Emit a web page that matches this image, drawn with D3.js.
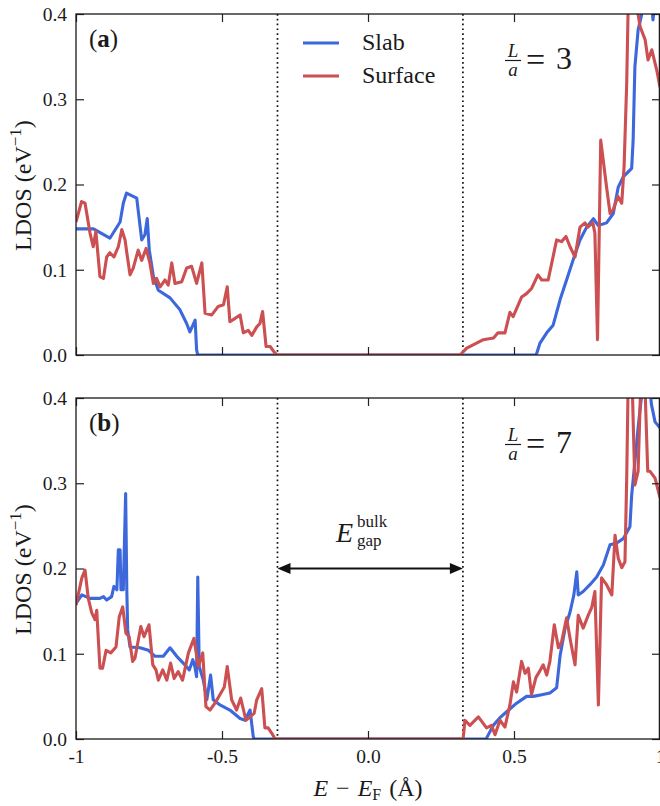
<!DOCTYPE html>
<html>
<head>
<meta charset="utf-8">
<script src="https://cdn.jsdelivr.net/npm/d3@7"></script>
<style>
  body { margin: 0; background: #fff; }
  svg text { font-family: "Liberation Serif", "Times New Roman", "Noto Serif", "DejaVu Serif", serif; fill: #1a1a1a; }
</style>
</head>
<body>
<script>
// ---------- data (E - E_F, LDOS) ----------
const xTicks = [-1, -0.5, 0, 0.5, 1];
const xTickLabels = ["-1", "-0.5", "0.0", "0.5", "1"];
const yTicks = [0, 0.1, 0.2, 0.3, 0.4];
const yTickLabels = ["0.0", "0.1", "0.2", "0.3", "0.4"];
const gapEdges = [-0.31, 0.325];
const seriesNames = ["Slab", "Surface"];
const panelLabels = ["a", "b"];
const ratioValues = ["3", "7"];

const slabA = [[-1.0,0.148],[-0.94,0.148],[-0.884,0.137],[-0.849,0.156],[-0.838,0.178],[-0.827,0.190],[-0.792,0.184],[-0.775,0.135],[-0.764,0.141],[-0.756,0.160],[-0.749,0.123],[-0.735,0.092],[-0.718,0.076],[-0.678,0.067],[-0.644,0.053],[-0.621,0.037],[-0.610,0.027],[-0.592,0.041],[-0.587,0.006],[-0.583,0],[0.575,0],[0.578,0.002],[0.589,0.014],[0.612,0.026],[0.634,0.035],[0.658,0.065],[0.680,0.088],[0.702,0.111],[0.726,0.135],[0.749,0.150],[0.772,0.160],[0.788,0.152],[0.817,0.155],[0.840,0.166],[0.857,0.197],[0.874,0.209],[0.903,0.219],[0.908,0.252],[0.914,0.338],[0.925,0.381],[0.937,0.399],[0.95,0.43],[0.965,0.44],[0.976,0.393],[0.985,0.43],[1.0,0.45]];

const surfA = [[-1.0,0.156],[-0.981,0.18],[-0.969,0.178],[-0.952,0.143],[-0.941,0.127],[-0.932,0.145],[-0.918,0.092],[-0.906,0.090],[-0.895,0.115],[-0.884,0.12],[-0.87,0.115],[-0.855,0.127],[-0.843,0.147],[-0.832,0.135],[-0.826,0.12],[-0.815,0.094],[-0.804,0.102],[-0.787,0.123],[-0.775,0.111],[-0.76,0.125],[-0.747,0.108],[-0.735,0.084],[-0.724,0.090],[-0.712,0.080],[-0.695,0.088],[-0.684,0.082],[-0.672,0.108],[-0.661,0.084],[-0.638,0.086],[-0.621,0.102],[-0.604,0.104],[-0.587,0.084],[-0.569,0.108],[-0.558,0.049],[-0.535,0.047],[-0.513,0.057],[-0.495,0.059],[-0.482,0.080],[-0.473,0.039],[-0.455,0.043],[-0.438,0.047],[-0.427,0.026],[-0.41,0.029],[-0.398,0.023],[-0.381,0.033],[-0.37,0.037],[-0.361,0.051],[-0.349,0.010],[-0.335,0.010],[-0.318,0.002],[-0.31,0],[0.315,0],[0.338,0.008],[0.36,0.012],[0.395,0.018],[0.43,0.02],[0.445,0.026],[0.469,0.026],[0.486,0.050],[0.497,0.045],[0.526,0.068],[0.543,0.072],[0.56,0.078],[0.582,0.094],[0.595,0.088],[0.617,0.088],[0.646,0.135],[0.663,0.133],[0.678,0.139],[0.692,0.127],[0.709,0.115],[0.726,0.150],[0.743,0.155],[0.753,0.150],[0.77,0.155],[0.777,0.143],[0.786,0.018],[0.797,0.252],[0.817,0.197],[0.829,0.166],[0.839,0.170],[0.856,0.186],[0.869,0.178],[0.877,0.221],[0.886,0.319],[0.891,0.41],[0.905,0.45],[0.92,0.41],[0.932,0.385],[0.949,0.37],[0.959,0.346],[0.972,0.358],[0.989,0.334],[1.0,0.314]];

const slabB = [[-1.0,0.159],[-0.98,0.169],[-0.952,0.165],[-0.918,0.165],[-0.906,0.167],[-0.895,0.163],[-0.878,0.167],[-0.87,0.179],[-0.86,0.175],[-0.855,0.222],[-0.849,0.222],[-0.846,0.175],[-0.838,0.175],[-0.830,0.288],[-0.826,0.175],[-0.823,0.128],[-0.815,0.108],[-0.781,0.107],[-0.752,0.104],[-0.729,0.097],[-0.701,0.097],[-0.678,0.107],[-0.655,0.097],[-0.627,0.087],[-0.612,0.081],[-0.600,0.093],[-0.593,0.085],[-0.587,0.073],[-0.583,0.190],[-0.578,0.085],[-0.564,0.069],[-0.552,0.046],[-0.539,0.075],[-0.530,0.046],[-0.507,0.040],[-0.473,0.034],[-0.438,0.024],[-0.421,0.022],[-0.404,0.034],[-0.393,0.003],[-0.39,0],[0.403,0],[0.406,0.001],[0.429,0.016],[0.452,0.025],[0.475,0.032],[0.509,0.042],[0.543,0.050],[0.566,0.050],[0.595,0.052],[0.623,0.054],[0.646,0.060],[0.658,0.098],[0.675,0.130],[0.692,0.149],[0.705,0.169],[0.715,0.196],[0.720,0.169],[0.737,0.173],[0.760,0.181],[0.783,0.190],[0.806,0.204],[0.829,0.228],[0.852,0.230],[0.874,0.235],[0.897,0.249],[0.903,0.286],[0.914,0.325],[0.925,0.365],[0.937,0.403],[0.95,0.43],[0.962,0.42],[0.971,0.392],[0.983,0.372],[1.0,0.365]];

const surfB = [[-1.0,0.157],[-0.98,0.189],[-0.969,0.198],[-0.958,0.165],[-0.946,0.148],[-0.935,0.140],[-0.929,0.151],[-0.918,0.083],[-0.909,0.083],[-0.897,0.104],[-0.881,0.101],[-0.863,0.108],[-0.852,0.143],[-0.840,0.155],[-0.829,0.124],[-0.818,0.120],[-0.806,0.091],[-0.798,0.095],[-0.778,0.132],[-0.767,0.120],[-0.75,0.134],[-0.737,0.087],[-0.726,0.081],[-0.718,0.069],[-0.703,0.081],[-0.689,0.069],[-0.676,0.089],[-0.664,0.071],[-0.65,0.079],[-0.635,0.069],[-0.615,0.101],[-0.596,0.118],[-0.581,0.085],[-0.566,0.101],[-0.555,0.038],[-0.541,0.034],[-0.524,0.042],[-0.492,0.061],[-0.482,0.085],[-0.467,0.046],[-0.450,0.034],[-0.436,0.048],[-0.418,0.022],[-0.404,0.026],[-0.39,0.030],[-0.381,0.046],[-0.364,0.059],[-0.353,0.013],[-0.342,0.013],[-0.330,0.007],[-0.318,0],[0.325,0],[0.326,0.001],[0.332,0.022],[0.349,0.016],[0.378,0.026],[0.406,0.013],[0.423,0.016],[0.435,0.005],[0.452,0.022],[0.469,0.014],[0.486,0.040],[0.498,0.067],[0.509,0.055],[0.526,0.091],[0.538,0.077],[0.549,0.083],[0.560,0.052],[0.575,0.072],[0.587,0.079],[0.600,0.087],[0.612,0.075],[0.623,0.091],[0.638,0.134],[0.652,0.107],[0.663,0.114],[0.680,0.142],[0.694,0.114],[0.709,0.087],[0.720,0.145],[0.737,0.130],[0.754,0.145],[0.766,0.154],[0.777,0.173],[0.789,0.040],[0.800,0.189],[0.817,0.181],[0.835,0.169],[0.846,0.239],[0.857,0.212],[0.869,0.201],[0.880,0.208],[0.886,0.306],[0.891,0.42],[0.903,0.44],[0.914,0.298],[0.925,0.314],[0.937,0.45],[0.948,0.42],[0.958,0.314],[0.966,0.314],[0.983,0.306],[1.0,0.283]];

const arrowLevel = 0.2;

// ---------- drawing ----------
const FONT = '"Liberation Serif", "Times New Roman", "Noto Serif", "DejaVu Serif", serif';
const W = 660, H = 806;
const BLUE = "#3c68dc", RED = "#cc4f51";
const svg = d3.select("body").append("svg").attr("width", W).attr("height", H)
  .attr("font-family", FONT);

const x = d3.scaleLinear().domain([-1, 1]).range([76, 660]);
const panels = [
  { top: 14, bottom: 355, slab: slabA, surf: surfA, label: panelLabels[0], ratio: ratioValues[0], showX: false, arrow: false },
  { top: 398, bottom: 739, slab: slabB, surf: surfB, label: panelLabels[1], ratio: ratioValues[1], showX: true, arrow: true }
];

const defs = svg.append("defs");

panels.forEach((p, i) => {
  const y = d3.scaleLinear().domain([0, 0.4]).range([p.bottom, p.top]);
  const g = svg.append("g");
  const clipId = "clip" + i;
  defs.append("clipPath").attr("id", clipId).append("rect")
    .attr("x", x(-1)).attr("y", y(0.4)).attr("width", x(1) - x(-1)).attr("height", y(0) - y(0.4));

  // gap lines
  g.selectAll("line.gap").data(gapEdges).enter().append("line")
    .attr("x1", d => x(d)).attr("x2", d => x(d))
    .attr("y1", y(0.4)).attr("y2", y(0))
    .attr("stroke", "#111").attr("stroke-width", 1.7)
    .attr("stroke-dasharray", "1.7,3.1");

  const line = d3.line().x(d => x(d[0])).y(d => y(d[1]));
  const lg = g.append("g").attr("clip-path", `url(#${clipId})`);
  lg.append("path").datum(p.slab).attr("d", line)
    .attr("fill", "none").attr("stroke", BLUE).attr("stroke-width", 3.1).attr("stroke-linejoin", "round");
  lg.append("path").datum(p.surf).attr("d", line)
    .attr("fill", "none").attr("stroke", RED).attr("stroke-width", 3.1).attr("stroke-linejoin", "round");

  // axes (inward ticks on all sides)
  const axB = d3.axisBottom(x).tickValues(xTicks).tickSize(-8).tickPadding(10)
    .tickFormat((d, k) => p.showX ? xTickLabels[k] : "");
  const axT = d3.axisTop(x).tickValues(xTicks).tickSize(-8).tickFormat("");
  const axL = d3.axisLeft(y).tickValues(yTicks).tickSize(-8).tickPadding(9)
    .tickFormat((d, k) => yTickLabels[k]);
  const axR = d3.axisRight(y).tickValues(yTicks).tickSize(-8).tickFormat("");
  const styleAx = sel => {
    sel.attr("font-family", FONT);
    sel.select(".domain").remove();
    sel.selectAll(".tick line").attr("stroke", "#222").attr("stroke-width", 1.2);
    sel.selectAll(".tick text").style("font-family", FONT)
      .style("font-size", "19.5px").attr("fill", "#1a1a1a");
  };
  g.append("g").attr("transform", `translate(0,${y(0)})`).call(axB).call(styleAx);
  g.append("g").attr("transform", `translate(0,${y(0.4)})`).call(axT).call(styleAx);
  g.append("g").attr("transform", `translate(${x(-1)},0)`).call(axL).call(styleAx);
  g.append("g").attr("transform", `translate(${x(1)},0)`).call(axR).call(styleAx);

  // frame
  g.append("rect").attr("x", x(-1)).attr("y", y(0.4))
    .attr("width", x(1) - x(-1) - 0.6).attr("height", y(0) - y(0.4))
    .attr("fill", "none").attr("stroke", "#1a1a1a").attr("stroke-width", 1.3);

  // y label
  const yl = g.append("text").attr("transform", `translate(31,${(y(0) + y(0.4)) / 2 + 1}) rotate(-90)`)
    .attr("text-anchor", "middle").style("font-size", "24px");
  yl.append("tspan").text("LDOS (eV");
  yl.append("tspan").attr("dy", -10).style("font-size", "17px").text("\u22121");
  yl.append("tspan").attr("dy", 10).text(")");

  // panel label
  const pl = g.append("text").attr("x", 89).attr("y", y(0.4) + 33).style("font-size", "25px");
  pl.append("tspan").text("(");
  pl.append("tspan").style("font-weight", "bold").text(p.label);
  pl.append("tspan").text(")");

  // L/a = n
  const fy = y(0.4);
  g.append("text").attr("x", 513).attr("y", fy + 43).attr("text-anchor", "middle")
    .style("font-size", "19px").style("font-style", "italic").text("L");
  g.append("line").attr("x1", 505).attr("x2", 521).attr("y1", fy + 46.5).attr("y2", fy + 46.5)
    .attr("stroke", "#1a1a1a").attr("stroke-width", 1.2);
  g.append("text").attr("x", 513).attr("y", fy + 62).attr("text-anchor", "middle")
    .style("font-size", "19px").style("font-style", "italic").text("a");
  g.append("text").attr("x", 526).attr("y", fy + 57).style("font-size", "34px").text("=");
  g.append("text").attr("x", 556).attr("y", fy + 55).style("font-size", "32px").text(p.ratio);

  // arrow + gap label
  if (p.arrow) {
    const ay = y(arrowLevel);
    const x0 = x(gapEdges[0]), x1 = x(gapEdges[1]);
    g.append("line").attr("x1", x0 + 8).attr("x2", x1 - 8).attr("y1", ay).attr("y2", ay)
      .attr("stroke", "#111").attr("stroke-width", 1.8);
    g.append("path").attr("d", `M${x0},${ay} L${x0 + 13},${ay - 5.5} L${x0 + 13},${ay + 5.5} Z`).attr("fill", "#111");
    g.append("path").attr("d", `M${x1},${ay} L${x1 - 13},${ay - 5.5} L${x1 - 13},${ay + 5.5} Z`).attr("fill", "#111");
    const gl = g.append("text");
    gl.append("tspan").attr("x", 336).attr("y", ay - 27).style("font-size", "28px").style("font-style", "italic").text("E");
    gl.append("tspan").attr("x", 357).attr("y", ay - 42).style("font-size", "17px").text("bulk");
    gl.append("tspan").attr("x", 357).attr("y", ay - 23).style("font-size", "17px").text("gap");
  }
});

// legend
const legColors = [BLUE, RED];
const leg = svg.append("g");
seriesNames.forEach((n, k) => {
  const ly = 43 + k * 33;
  leg.append("line").attr("x1", 303).attr("x2", 339).attr("y1", ly).attr("y2", ly)
    .attr("stroke", legColors[k]).attr("stroke-width", 3.1);
  leg.append("text").attr("x", 362).attr("y", ly + 7).style("font-size", "24px").text(n);
});

// x label
const xl = svg.append("text").attr("x", 368).attr("y", 796).attr("text-anchor", "middle").style("font-size", "24px");
xl.append("tspan").style("font-style", "italic").text("E");
xl.append("tspan").attr("dx", 8).text("\u2212");
xl.append("tspan").attr("dx", 8).style("font-style", "italic").text("E");
xl.append("tspan").attr("dy", 4).style("font-size", "16px").text("F");
xl.append("tspan").attr("dy", -4).attr("dx", 8).text("(\u00c5)");
</script>
</body>
</html>
